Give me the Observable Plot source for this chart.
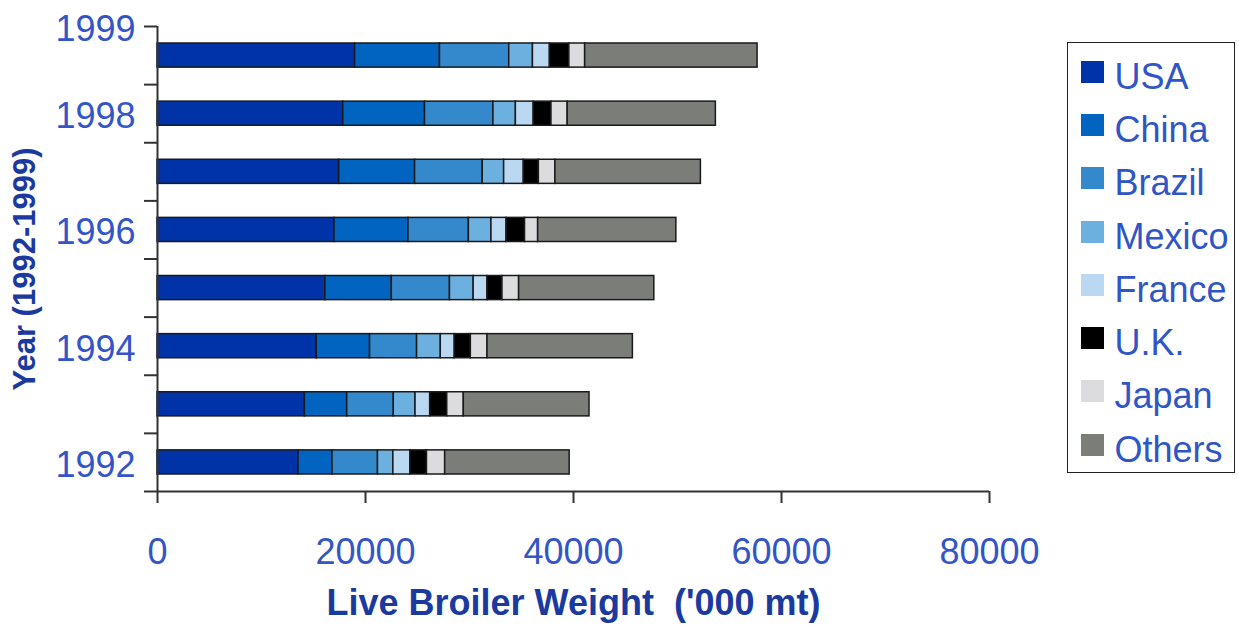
<!DOCTYPE html>
<html>
<head>
<meta charset="utf-8">
<script src="https://cdn.jsdelivr.net/npm/d3@7"></script>
<script src="https://cdn.jsdelivr.net/npm/@observablehq/plot@0.6"></script>
<style>
  body { margin: 0; background: #fff; }
  #chart { position: relative; width: 1239px; height: 637px; font-family: "Liberation Sans", Arial, sans-serif; }
  #chart svg { position: absolute; left: 0; top: 0; }
  #legend {
    position: absolute; left: 1067px; top: 42px; width: 168px; height: 431px;
    box-sizing: border-box; border: 1.5px solid #222; padding-top: 2px; background: #fff;
  }
  .item { display: flex; align-items: center; height: 53.3px; }
  .sw { width: 23px; height: 22px; margin-left: 12.5px; margin-right: 11px; flex: none; }
  .lab { font-size: 36px; color: #2f55c6; position: relative; top: 5px; white-space: nowrap; }
</style>
</head>
<body>
<div id="chart"></div>
<script>
// Live broiler weight by producer, thousand metric tonnes
const years = [1992, 1993, 1994, 1995, 1996, 1997, 1998, 1999];
const countries = ["USA", "China", "Brazil", "Mexico", "France", "U.K.", "Japan", "Others"];
const colors = ["#0033a8", "#0064c0", "#3389cc", "#6cb0e0", "#bad8f2", "#000000", "#dcdcde", "#7b7d79"];

const usa    = [13560, 14170, 15310, 16140, 17020, 17470, 17860, 19000];
const china  = [3270, 4070, 5130, 6390, 7110, 7300, 7860, 8160];
const brazil = [4370, 4480, 4520, 5590, 5810, 6500, 6580, 6660];
const mexico = [1480, 2090, 2280, 2280, 2170, 2060, 2160, 2280];
const france = [1640, 1410, 1340, 1330, 1450, 1890, 1710, 1630];
const uk     = [1590, 1640, 1550, 1440, 1780, 1450, 1710, 1870];
const japan  = [1750, 1590, 1600, 1600, 1260, 1590, 1560, 1520];
const others = [11970, 12090, 13980, 13000, 13290, 13990, 14250, 16580];

const xTicks = [0, 20000, 40000, 60000, 80000];
// category boundaries carry the tick marks; labels sit on selected rows
const yBoundaries = [1992, 1993, 1994, 1995, 1996, 1997, 1998, 1999, 2000];
const yLabelAt = [1992.5, 1994.5, 1996.5, 1998.5, 2000];
const yLabelText = ["1992", "1994", "1996", "1998", "1999"];

const xTitle = "Live Broiler Weight  ('000 mt)";
const yTitle = "Year (1992-1999)";

const seriesValues = [usa, china, brazil, mexico, france, uk, japan, others];
const rows = countries.flatMap((c, i) =>
  years.map((y, j) => ({year: y, country: c, value: seriesValues[i][j]})));

const tickColor = "#3355c8";
const titleColor = "#1b3a9f";
const axisColor = "#333";

const plot = Plot.plot({
  width: 1239,
  height: 637,
  marginLeft: 157,
  marginRight: 250,
  marginTop: 26,
  marginBottom: 146,
  style: {fontFamily: "Liberation Sans, Arial, sans-serif", background: "transparent", overflow: "visible"},
  x: {domain: [0, 80000]},
  y: {domain: [1992, 2000]},
  color: {domain: countries, range: colors},
  marks: [
    Plot.rectX(rows, {
      x: "value", y: "year", interval: 1, z: "country",
      fill: "country", stroke: "#1a1a1a", strokeWidth: 1.5,
      insetTop: 17, insetBottom: 17
    }),
    Plot.ruleX([0], {stroke: axisColor, strokeWidth: 2}),
    Plot.ruleY([1992], {stroke: axisColor, strokeWidth: 2}),
    Plot.axisX({
      ticks: xTicks, tickFormat: "d", tickSize: 12, tickPadding: 35,
      fontSize: 36, fill: tickColor, stroke: axisColor, strokeWidth: 2, label: null
    }),
    Plot.axisY({
      ticks: yBoundaries, tickFormat: () => "", tickSize: 13,
      stroke: axisColor, strokeWidth: 2, label: null
    }),
    Plot.axisY({
      ticks: yLabelAt, tickFormat: d => yLabelText[yLabelAt.indexOf(d)],
      tickSize: 0, tickPadding: 22, dy: 3,
      fontSize: 36, fill: tickColor, label: null
    }),
    Plot.text([xTitle], {
      frameAnchor: "bottom", dy: 123, fontSize: 36, fontWeight: "bold", fill: titleColor
    }),
    Plot.text([yTitle], {
      frameAnchor: "left", textAnchor: "middle", rotate: -90, dx: -132, dy: 10,
      fontSize: 31, fontWeight: "bold", fill: titleColor
    })
  ]
});

const chart = document.getElementById("chart");
chart.appendChild(plot);

// legend box on the right
const legend = document.createElement("div");
legend.id = "legend";
countries.forEach((c, i) => {
  const item = document.createElement("div");
  item.className = "item";
  const sw = document.createElement("span");
  sw.className = "sw";
  sw.style.background = colors[i];
  const lab = document.createElement("span");
  lab.className = "lab";
  lab.textContent = c;
  item.append(sw, lab);
  legend.appendChild(item);
});
chart.appendChild(legend);
</script>
</body>
</html>
